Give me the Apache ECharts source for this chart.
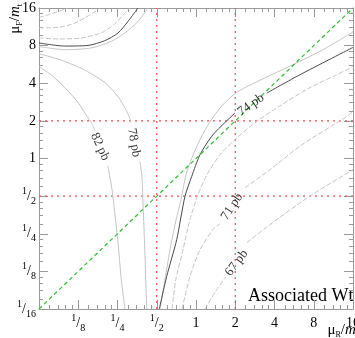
<!DOCTYPE html>
<html>
<head>
<meta charset="utf-8">
<script src="https://cdn.jsdelivr.net/npm/echarts@6/dist/echarts.min.js"></script>
<style>
html,body{margin:0;padding:0;background:#fff;}
#chart{width:355px;height:338px;}
</style>
</head>
<body>
<div id="chart"></div>
<script>
// Scale-variation contours of the associated Wt cross section, [muR/mt, muF/mt] pairs.
const scaleMin = 1 / 16;
const scaleMax = 16;

// 82 pb (light solid), split where the label sits
const c82a = [[0.0625,5.43],[0.0772,4.68],[0.0988,3.69],[0.1246,2.80],[0.1433,2.24],[0.159,1.90],[0.168,1.67]];
const c82b = [[0.211,0.876],[0.227,0.563],[0.239,0.355],[0.2524,0.212],[0.266,0.113],[0.285,0.0625]];
// 78 pb (light solid)
const c78a = [[0.0625,6.89],[0.0904,6.17],[0.1337,5.23],[0.2006,4.04],[0.2524,3.12],[0.2957,2.37],[0.317,1.97]];
const c78b = [[0.372,0.943],[0.385,0.715],[0.394,0.389],[0.403,0.212],[0.411,0.113],[0.419,0.0625]];
// unlabelled light solid level between 78 pb and 74 pb
const cUpTop = [[0.0625,7.88],[0.0984,7.42],[0.157,7.66],[0.224,8.65],[0.284,10.1],[0.359,12.5],[0.428,16]];
const cUpMain = [[0.530,0.0625],[0.569,0.0978],[0.632,0.186],[0.690,0.296],[0.767,0.468],[0.838,0.742],[0.932,1.015],[1.073,1.414],[1.281,1.97],[1.582,2.64],[2.03,3.36],[2.94,4.12],[5.54,5.63],[9.42,7.42],[16,10.3]];
// 74 pb central contour (dark)
const c74Top = [[0.0625,8.40],[0.0983,7.94],[0.1486,8.03],[0.1994,8.76],[0.2524,10.1],[0.301,12.5],[0.359,16]];
const c74a = [[0.523,0.0625],[0.596,0.114],[0.711,0.224],[0.823,0.498],[0.927,0.719],[1.073,1.072],[1.35,1.55],[1.99,2.31]];
const c74b = [[3.49,3.34],[6.27,4.68],[16,7.74]];
// unlabelled dashed level between 74 pb and 71 pb
const cDnTop = [[0.0625,9.21],[0.0874,9.04],[0.132,9.21],[0.187,10.1],[0.238,11.9],[0.292,15.0],[0.310,16]];
const cDnMain = [[0.655,0.0625],[0.699,0.107],[0.795,0.186],[0.898,0.324],[1.036,0.513],[1.214,0.742],[1.527,1.072],[1.99,1.414],[2.83,1.93],[4.41,2.64],[7.48,3.69],[11.6,4.60],[16,5.43]];
// 71 pb (dashed)
const c71Top = [[0.0625,11.1],[0.0874,11.2],[0.117,12.1],[0.157,14.3],[0.183,16]];
const c71a = [[0.781,0.0625],[0.898,0.113],[1.073,0.186],[1.35,0.270],[1.527,0.301]];
const c71b = [[2.375,0.584],[3.69,0.813],[6.50,1.29],[13.9,2.12],[16,2.37]];
// 67 pb (dashed)
const c67Top = [[0.0625,13.45],[0.0733,14.1],[0.0874,15.0],[0.104,16]];
const c67a = [[1.172,0.0625],[1.441,0.0892],[1.698,0.113]];
const c67b = [[2.46,0.212],[3.69,0.296],[7.75,0.513],[16,0.813]];

// contour labels: text, position, angle
const labelText = ['82 pb','78 pb','74 pb','71 pb','67 pb'];
const labelPos = [[0.1834,1.243],[0.3345,1.338],[2.64,2.69],[1.888,0.412],[2.05,0.146]];
const labelAngle = [-65,-80,35,56,53];

// reference scale choices
const refScales = [0.5, 2];
const diagonal = [[scaleMin,scaleMin],[scaleMax,scaleMax]];

const serif = '"Liberation Serif","DejaVu Serif",serif';
const frameColor = '#9a9a9a';
const lightColor = '#c4c4c4';
const darkColor = '#4a4a4a';

function fracLabel(v) {
  if (v >= 1) return '{w|' + Math.round(v) + '}';
  return '{n|1}{s|/}{d|' + Math.round(1 / v) + '}';
}
const fracRich = {
  w: {fontSize: 14, fontFamily: serif, color: '#000', lineHeight: 20},
  n: {fontSize: 10, fontFamily: serif, color: '#000', verticalAlign: 'top'},
  s: {fontSize: 14, fontFamily: serif, color: '#000', lineHeight: 20},
  d: {fontSize: 10, fontFamily: serif, color: '#000', verticalAlign: 'bottom'}
};

function logAxis(pos, showLabel, extra) {
  return Object.assign({
    type: 'log', logBase: 2, min: scaleMin, max: scaleMax, splitNumber: 8,
    position: pos,
    axisLine: {show: true, lineStyle: {color: frameColor, width: 1}},
    axisTick: {show: true, inside: true, length: 9, lineStyle: {color: frameColor}},
    minorTick: {show: true, splitNumber: 5, length: 4, lineStyle: {color: frameColor}},
    splitLine: {show: false},
    axisLabel: {show: showLabel, formatter: fracLabel, rich: fracRich}
  }, extra || {});
}

function curve(data, color, dashed) {
  return {
    type: 'line', data: data, showSymbol: false, symbol: 'none', silent: true,
    smooth: 0.25,
    lineStyle: {color: color, width: 1, type: dashed ? [5, 2] : 'solid'},
    z: 3
  };
}

const series = [];
refScales.forEach(function (r) {
  series.push({type: 'line', data: [[r, scaleMin],[r, scaleMax]], showSymbol: false, silent: true,
    lineStyle: {color: '#ff4a4a', width: 1.2, type: [2, 4]}, z: 2});
  series.push({type: 'line', data: [[scaleMin, r],[scaleMax, r]], showSymbol: false, silent: true,
    lineStyle: {color: '#ff4a4a', width: 1.2, type: [2, 4]}, z: 2});
});
[c82a, c82b, c78a, c78b, cUpTop, cUpMain].forEach(function (d) { series.push(curve(d, lightColor, false)); });
[cDnTop, cDnMain, c71Top, c71a, c71b, c67Top, c67a, c67b].forEach(function (d) { series.push(curve(d, lightColor, true)); });
[c74Top, c74a, c74b].forEach(function (d) { series.push(curve(d, darkColor, false)); });
series.push({type: 'line', data: diagonal, showSymbol: false, silent: true,
  lineStyle: {color: '#2fbf2f', width: 1.2, type: [4, 3]}, z: 4});
series.push({
  type: 'scatter', symbolSize: 0, silent: true, z: 5,
  data: labelPos.map(function (p, i) {
    return {value: p, name: labelText[i], label: {rotate: labelAngle[i]}};
  }),
  label: {show: true, position: 'inside', formatter: '{b}', color: '#000',
    fontFamily: serif, fontSize: 13}
});

const titleRich = {
  mu: {fontSize: 15, fontFamily: serif, fill: '#000', lineHeight: 18},
  sb: {fontSize: 8, fontFamily: serif, fill: '#000', verticalAlign: 'bottom'},
  sl: {fontSize: 15, fontFamily: serif, fill: '#000', lineHeight: 18},
  m: {fontSize: 15, fontFamily: serif, fontStyle: 'italic', fill: '#000', lineHeight: 18}
};

const chart = echarts.init(document.getElementById('chart'), null, {renderer: 'canvas'});
chart.setOption({
  animation: false,
  backgroundColor: '#fff',
  grid: {left: 39, right: 2, top: 8, bottom: 29, containLabel: false, outerBoundsMode: 'none'},
  xAxis: [
    logAxis('bottom', true, {axisLabel: {show: true, formatter: fracLabel, rich: fracRich, margin: 4, showMinLabel: false}}),
    logAxis('top', false)
  ],
  yAxis: [
    logAxis('left', true, {axisLabel: {show: true, formatter: fracLabel, rich: fracRich, margin: 3}}),
    logAxis('right', false)
  ],
  series: series,
  graphic: [
    {type: 'text', x: 15, y: 4, rotation: Math.PI / 2,
      style: {text: '{mu|μ}{sb|F}{sl|/}{m|m}{sb|t}', align: 'right', verticalAlign: 'middle', rich: titleRich}},
    {type: 'text', x: 358, y: 330,
      style: {text: '{mu|μ}{sb|R}{sl|/}{m|m}{sb|t}', align: 'right', verticalAlign: 'middle', rich: titleRich}},
    {type: 'text', x: 248, y: 296,
      style: {text: 'Associated Wt', fontFamily: serif, fontSize: 18, fill: '#000',
        align: 'left', verticalAlign: 'middle'}}
  ]
});
</script>
</body>
</html>
